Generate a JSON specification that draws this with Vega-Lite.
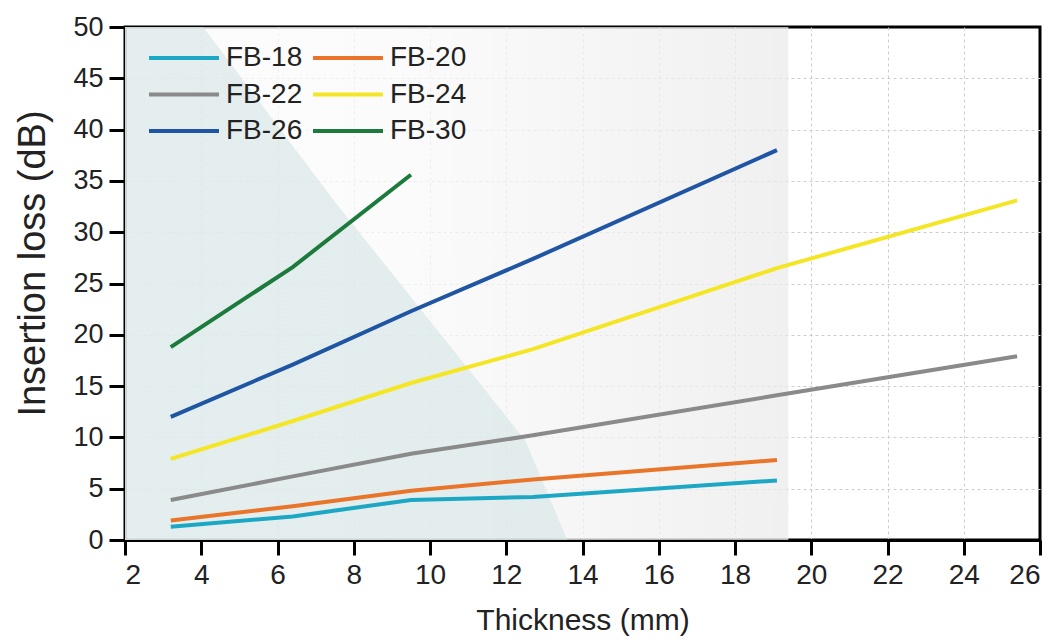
{
  "$schema": "https://vega.github.io/schema/vega-lite/v6.json",
  "width": 915,
  "height": 513,
  "autosize": "none",
  "padding": {"left": 125, "top": 27, "right": 18, "bottom": 100},
  "background": "white",
  "config": {
    "font": "Liberation Sans",
    "view": {"stroke": "black", "strokeWidth": 3},
    "axis": {"labelFont": "Liberation Sans", "titleFont": "Liberation Sans"}
  },
  "layer": [
    {
      "data": {"values": [{"x": 2, "x2": 19.4}]},
      "mark": {"type": "rect", "opacity": 0.75, "fill": {"gradient": "linear", "x1": 0, "x2": 1, "y1": 0, "y2": 0, "stops": [{"offset": 0, "color": "#fbfbfb"}, {"offset": 0.4, "color": "#fafafa"}, {"offset": 1, "color": "#ebebeb"}]}},
      "encoding": {
        "x": {"field": "x", "type": "quantitative"},
        "x2": {"field": "x2"},
        "y": {"datum": 0},
        "y2": {"datum": 50}
      }
    },
    {
      "data": {"values": [{"x": 2, "y": 50}, {"x": 4.05, "y": 50}, {"x": 7.5, "y": 33}, {"x": 12.5, "y": 9.7}, {"x": 13.6, "y": 0}]},
      "mark": {"type": "area", "color": "#d6e4e4", "opacity": 0.6},
      "encoding": {
        "x": {"field": "x", "type": "quantitative"},
        "y": {"field": "y", "type": "quantitative"},
        "y2": {"datum": 0}
      }
    },
    {
      "data": {"values": [
        {"series": "FB-18", "t": 3.2, "loss": 1.3},
        {"series": "FB-18", "t": 6.4, "loss": 2.3},
        {"series": "FB-18", "t": 9.5, "loss": 3.9},
        {"series": "FB-18", "t": 12.7, "loss": 4.2},
        {"series": "FB-18", "t": 19.1, "loss": 5.8},
        {"series": "FB-20", "t": 3.2, "loss": 1.9},
        {"series": "FB-20", "t": 6.4, "loss": 3.3},
        {"series": "FB-20", "t": 9.5, "loss": 4.8},
        {"series": "FB-20", "t": 12.7, "loss": 5.9},
        {"series": "FB-20", "t": 19.1, "loss": 7.8},
        {"series": "FB-22", "t": 3.2, "loss": 3.9},
        {"series": "FB-22", "t": 6.4, "loss": 6.2},
        {"series": "FB-22", "t": 9.5, "loss": 8.4},
        {"series": "FB-22", "t": 12.7, "loss": 10.2},
        {"series": "FB-22", "t": 19.1, "loss": 14.1},
        {"series": "FB-22", "t": 25.4, "loss": 17.9},
        {"series": "FB-24", "t": 3.2, "loss": 7.9},
        {"series": "FB-24", "t": 6.4, "loss": 11.6},
        {"series": "FB-24", "t": 9.5, "loss": 15.3},
        {"series": "FB-24", "t": 12.7, "loss": 18.6},
        {"series": "FB-24", "t": 19.1, "loss": 26.5},
        {"series": "FB-24", "t": 25.4, "loss": 33.1},
        {"series": "FB-26", "t": 3.2, "loss": 12.0},
        {"series": "FB-26", "t": 6.4, "loss": 17.1},
        {"series": "FB-26", "t": 9.5, "loss": 22.3},
        {"series": "FB-26", "t": 12.7, "loss": 27.4},
        {"series": "FB-26", "t": 19.1, "loss": 38.0},
        {"series": "FB-30", "t": 3.2, "loss": 18.8},
        {"series": "FB-30", "t": 6.4, "loss": 26.6},
        {"series": "FB-30", "t": 9.5, "loss": 35.6}
      ]},
      "mark": {"type": "line", "strokeWidth": 4},
      "encoding": {
        "x": {
          "field": "t", "type": "quantitative",
          "scale": {"domain": [2, 26], "nice": false, "zero": false},
          "axis": {
            "title": "Thickness (mm)",
            "values": [2,3,4,5,6,7,8,9,10,11,12,13,14,15,16,17,18,19,20,21,22,23,24,25,26],
            "labelExpr": "datum.value % 2 === 0 ? datum.label : ''",
            "labelFontSize": 28, "labelColor": "#222", "labelPadding": 6,
            "titleFontSize": 30, "titleColor": "#222", "titleFontWeight": "normal", "titlePadding": 16,
            "domainColor": "black", "domainWidth": 3,
            "tickColor": "black", "tickWidth": 3,
            "tickSize": {"condition": {"test": "datum.value % 2 === 0", "value": 15}, "value": 8},
            "grid": true, "gridColor": "#cccccc", "gridDash": [3, 3], "gridWidth": 1,
            "gridOpacity": {"condition": {"test": "datum.value % 2 === 0 && datum.value > 2 && datum.value < 26", "value": 1}, "value": 0}
          }
        },
        "y": {
          "field": "loss", "type": "quantitative",
          "scale": {"domain": [0, 50], "nice": false},
          "axis": {
            "title": "Insertion loss (dB)",
            "values": [0,2.5,5,7.5,10,12.5,15,17.5,20,22.5,25,27.5,30,32.5,35,37.5,40,42.5,45,47.5,50],
            "labelExpr": "datum.value % 5 === 0 ? datum.label : ''",
            "labelFontSize": 27, "labelColor": "#222", "labelPadding": 6,
            "titleFontSize": 38, "titleColor": "#222", "titleFontWeight": "normal", "titlePadding": 20,
            "titleY": 236,
            "domainColor": "black", "domainWidth": 3,
            "tickColor": "black", "tickWidth": 3,
            "tickSize": {"condition": {"test": "datum.value % 5 === 0", "value": 16}, "value": 8},
            "grid": true, "gridColor": "#cccccc", "gridDash": [3, 3], "gridWidth": 1,
            "gridOpacity": {"condition": {"test": "datum.value % 5 === 0 && datum.value > 0 && datum.value < 50", "value": 1}, "value": 0}
          }
        },
        "color": {
          "field": "series", "type": "nominal",
          "scale": {
            "domain": ["FB-18", "FB-22", "FB-26", "FB-20", "FB-24", "FB-30"],
            "range": ["#1ca8c4", "#8a8a8a", "#1f55a3", "#e8752a", "#f4e625", "#1c7a3c"]
          },
          "legend": {
            "title": null,
            "orient": "none",
            "legendX": 45,
            "legendY": 17,
            "columns": 2,
            "symbolType": "M-3,0H3",
            "symbolSize": 544,
            "symbolStrokeWidth": 4,
            "labelFontSize": 28,
            "labelColor": "#222",
            "labelOffset": 28,
            "rowPadding": 8.5,
            "columnPadding": 2
          }
        }
      }
    }
  ]
}
